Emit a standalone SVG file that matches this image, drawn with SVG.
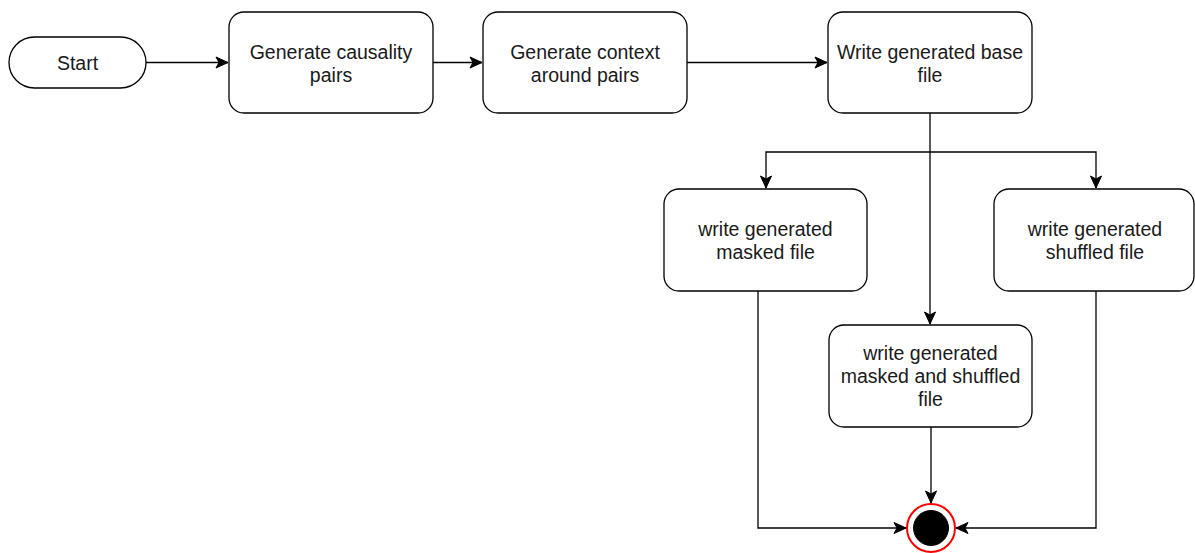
<svg xmlns="http://www.w3.org/2000/svg" width="1195" height="553" viewBox="0 0 1195 553">
<style>
.box{fill:#fff;stroke:#000;stroke-width:1.3}
.t{font-family:"Liberation Sans",Arial,sans-serif;font-size:19.5px;fill:#1a1a1a;text-anchor:middle}
.c{fill:none;stroke:#000;stroke-width:1.3}
</style>
<defs>
<marker id="a" markerUnits="userSpaceOnUse" markerWidth="14" markerHeight="14" viewBox="0 0 14 14" refX="13" refY="7" orient="auto">
<path d="M1,1.5 L13,7 L1,12.5 L4,7 Z" fill="#000" stroke="#000" stroke-width="1"/>
</marker>
</defs>
<rect width="1195" height="553" fill="#fff"/>
<g id="connectors">
<path class="c" d="M146,62.5 H228" marker-end="url(#a)"/>
<path class="c" d="M433,62.5 H482" marker-end="url(#a)"/>
<path class="c" d="M687,62.5 H827" marker-end="url(#a)"/>
<path class="c" d="M930,113 V324" marker-end="url(#a)"/>
<path class="c" d="M930,152 H766 V188" marker-end="url(#a)"/>
<path class="c" d="M930,152 H1096 V188" marker-end="url(#a)"/>
<path class="c" d="M758,291 V528 H906" marker-end="url(#a)"/>
<path class="c" d="M1096,291 V528 H956" marker-end="url(#a)"/>
<path class="c" d="M931,427 V503" marker-end="url(#a)"/>
</g>
<g id="start">
<rect class="box" x="9" y="37" width="137" height="51" rx="25.5"/>
<text class="t" x="77.5" y="69.5">Start</text>
</g>
<g id="gen-causality">
<rect class="box" x="229" y="12" width="204" height="101" rx="15"/>
<text class="t" x="331" y="59">Generate causality</text>
<text class="t" x="331" y="82">pairs</text>
</g>
<g id="gen-context">
<rect class="box" x="483" y="12" width="204" height="101" rx="15"/>
<text class="t" x="585" y="59">Generate context</text>
<text class="t" x="585" y="82">around pairs</text>
</g>
<g id="write-base">
<rect class="box" x="828" y="12" width="204" height="101" rx="15"/>
<text class="t" x="930" y="59">Write generated base</text>
<text class="t" x="930" y="82">file</text>
</g>
<g id="write-masked">
<rect class="box" x="664" y="189" width="203" height="102" rx="15"/>
<text class="t" x="765.5" y="236">write generated</text>
<text class="t" x="765.5" y="259">masked file</text>
</g>
<g id="write-shuffled">
<rect class="box" x="994" y="189" width="200" height="102" rx="15"/>
<text class="t" x="1095" y="236">write generated</text>
<text class="t" x="1095" y="259">shuffled file</text>
</g>
<g id="write-masked-shuffled">
<rect class="box" x="829" y="325" width="203" height="102" rx="15"/>
<text class="t" x="930.5" y="360">write generated</text>
<text class="t" x="930.5" y="383">masked and shuffled</text>
<text class="t" x="930.5" y="406">file</text>
</g>
<g id="end">
<circle cx="931" cy="528" r="24" fill="#fff" stroke="#ff0000" stroke-width="2"/>
<circle cx="931" cy="528" r="17.5" fill="#000" stroke="#000" stroke-width="1"/>
</g>
</svg>
